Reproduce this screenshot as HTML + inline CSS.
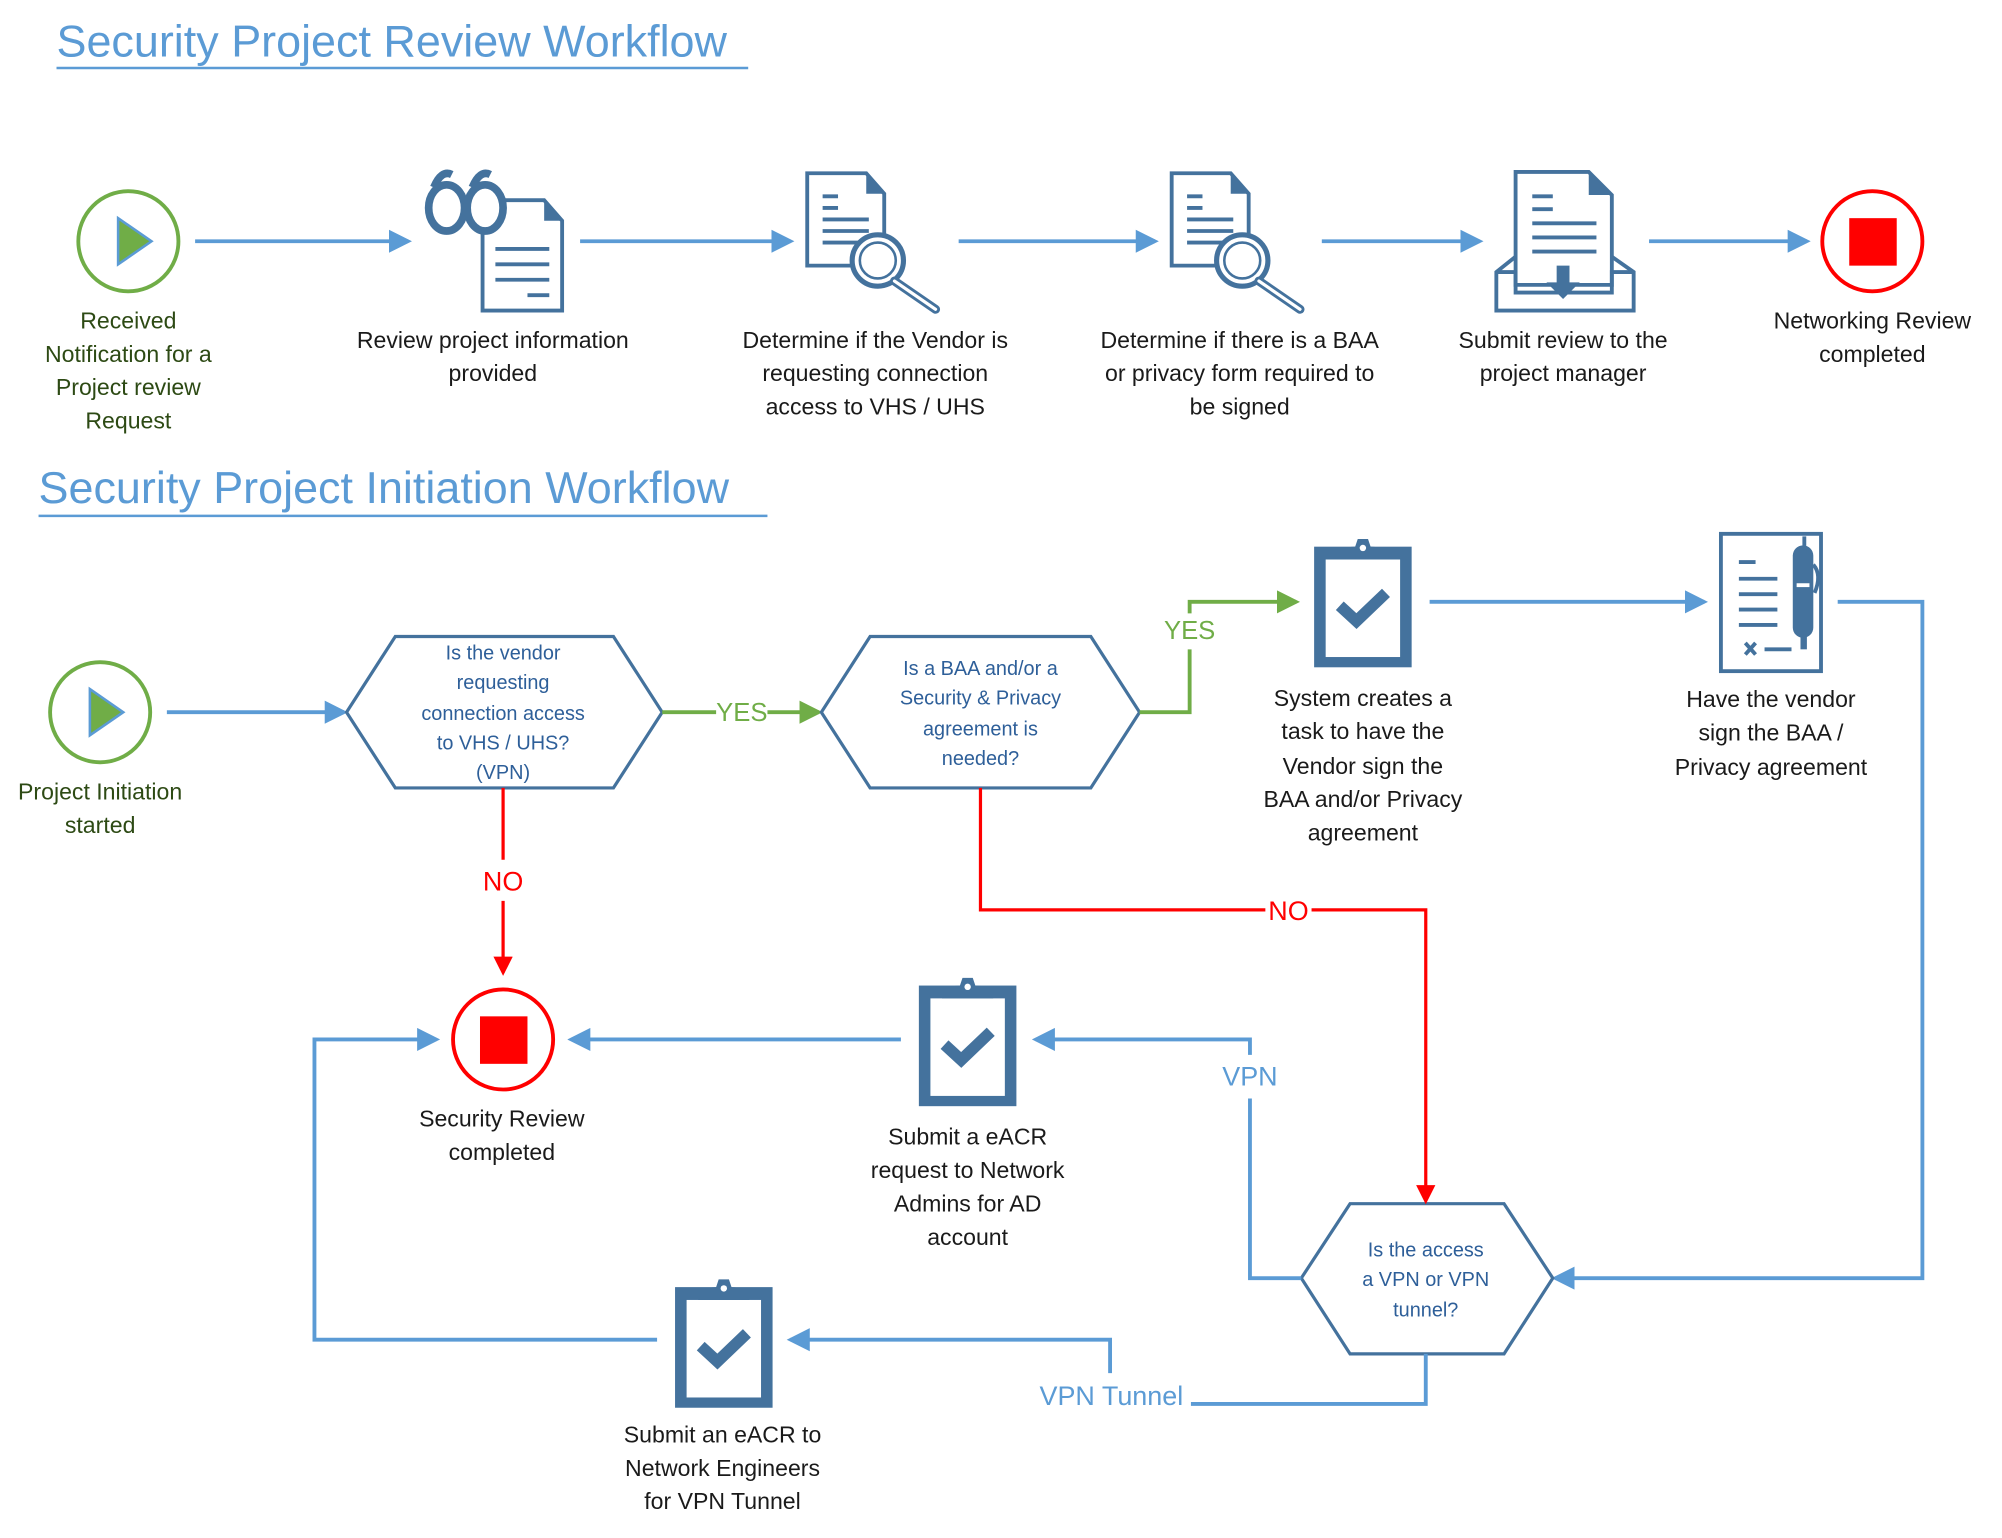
<!DOCTYPE html>
<html><head><meta charset="utf-8"><style>
html,body{margin:0;padding:0;background:#fff;}
svg{display:block;}
text{font-family:"Liberation Sans",sans-serif;}
.lbl{font-size:18px;fill:#1a1a1a;text-anchor:middle;}
.grn{font-size:18px;fill:#2d4a14;text-anchor:middle;}
.hx{font-size:15.5px;fill:#2e5f99;text-anchor:middle;}
.ln{fill:none;stroke:#5b9bd5;stroke-width:3;}
.ic{fill:none;stroke:#44729d;stroke-width:3;}
</style></head><body>
<svg width="2002" height="1538" viewBox="0 0 1560 1198.5" xmlns="http://www.w3.org/2000/svg">
<defs>
<marker id="ab" markerWidth="6" markerHeight="6" refX="5" refY="3" orient="auto" markerUnits="strokeWidth"><path d="M0,0 L6,3 L0,6 Z" fill="#5b9bd5"/></marker>
<marker id="ag" markerWidth="6" markerHeight="6" refX="5" refY="3" orient="auto" markerUnits="strokeWidth"><path d="M0,0 L6,3 L0,6 Z" fill="#70ad47"/></marker>
<marker id="ar" markerWidth="6" markerHeight="6" refX="5" refY="3" orient="auto" markerUnits="strokeWidth"><path d="M0,0 L6,3 L0,6 Z" fill="#ff0000"/></marker>
<g id="docmag">
<path d="M0,0 H46 L60,16 V72 H0 Z" fill="#fff" stroke="#44729d" stroke-width="3"/>
<path d="M46,0 L60,16 H46 Z" fill="#44729d"/>
<path d="M12,18 H24 M12,27 H24 M12,36 H48 M12,45 H48 M12,54 H40" stroke="#44729d" stroke-width="3"/>
<circle cx="55" cy="68" r="20" fill="#fff" stroke="#44729d" stroke-width="4"/>
<circle cx="55" cy="68" r="14" fill="none" stroke="#44729d" stroke-width="2"/>
<path d="M68,84 L100,106" stroke="#44729d" stroke-width="7" stroke-linecap="round"/>
<path d="M68,84 L100,106" stroke="#fff" stroke-width="2.5" stroke-linecap="round"/>
</g>
<g id="clip">
<rect x="2" y="10" width="76" height="94" fill="#44729d"/>
<rect x="11" y="20" width="58" height="76" fill="#fff"/>
<path d="M20,20 Q22,10 34,10 L36,4 H44 L46,10 Q58,10 60,20 Z" fill="#44729d"/>
<circle cx="40" cy="11" r="2.5" fill="#fff"/>
<path d="M22,56 L35,68 L58,46" fill="none" stroke="#44729d" stroke-width="9"/>
</g>
</defs>

<!-- Title 1 -->
<text x="44" y="44" style="font-size:35px;fill:#5b9bd5">Security Project Review Workflow</text>
<line x1="44" y1="53" x2="583" y2="53" stroke="#5b9bd5" stroke-width="2"/>

<!-- Row 1 -->
<circle cx="100" cy="188" r="39" fill="#fff" stroke="#70ad47" stroke-width="3"/>
<path d="M92,170 L118,188 L92,206 Z" fill="#70ad47" stroke="#5b9bd5" stroke-width="2"/>
<line class="ln" x1="152" y1="188" x2="318" y2="188" marker-end="url(#ab)"/>
<!-- glasses + doc -->
<g>
<path d="M376,156 H424 L438,172 V242 H376 Z" fill="#fff" stroke="#44729d" stroke-width="3"/>
<path d="M424,156 L438,172 H424 Z" fill="#44729d"/>
<path d="M386,194 H428 M386,206 H428 M386,218 H428 M411,230 H428" stroke="#44729d" stroke-width="3"/>
<ellipse cx="348" cy="162" rx="14" ry="18" fill="#fff" stroke="#44729d" stroke-width="6"/>
<ellipse cx="378" cy="162" rx="14" ry="18" fill="#fff" stroke="#44729d" stroke-width="6"/>
<path d="M338,146 Q344,132 352,136 M368,146 Q374,132 382,136" stroke="#44729d" stroke-width="6" fill="none"/>
</g>
<line class="ln" x1="452" y1="188" x2="616" y2="188" marker-end="url(#ab)"/>
<use href="#docmag" x="629" y="135"/>
<line class="ln" x1="747" y1="188" x2="900" y2="188" marker-end="url(#ab)"/>
<use href="#docmag" x="913" y="135"/>
<line class="ln" x1="1030" y1="188" x2="1153" y2="188" marker-end="url(#ab)"/>
<!-- inbox -->
<g>
<path d="M1181,134 H1238 L1256,152 V222 H1181 Z" fill="#fff" stroke="#44729d" stroke-width="3"/>
<path d="M1238,134 L1256,152 H1238 Z" fill="#44729d"/>
<path d="M1194,153 H1210 M1194,163 H1210 M1194,174 H1244 M1194,185 H1244 M1194,196 H1244" stroke="#44729d" stroke-width="3"/>
<path d="M1181,200 L1166,212 V242 H1273 V212 L1256,200" fill="none" stroke="#44729d" stroke-width="3"/>
<path d="M1166,212 H1181 V222 V228 H1256 V212 H1273" fill="none" stroke="#44729d" stroke-width="3"/>
<path d="M1213,207 H1223 V220 H1231 L1218,233 L1205,220 H1213 Z" fill="#44729d"/>
</g>
<line class="ln" x1="1285" y1="188" x2="1408" y2="188" marker-end="url(#ab)"/>
<circle cx="1459" cy="188" r="39" fill="#fff" stroke="#ff0000" stroke-width="3"/>
<rect x="1441" y="170" width="37" height="37" fill="#ff0000"/>

<text class="grn"><tspan x="100" y="256">Received</tspan><tspan x="100" y="282">Notification for a</tspan><tspan x="100" y="308">Project review</tspan><tspan x="100" y="334">Request</tspan></text>
<text class="lbl"><tspan x="384" y="271">Review project information</tspan><tspan x="384" y="297">provided</tspan></text>
<text class="lbl"><tspan x="682" y="271">Determine if the Vendor is</tspan><tspan x="682" y="297">requesting connection</tspan><tspan x="682" y="323">access to VHS / UHS</tspan></text>
<text class="lbl"><tspan x="966" y="271">Determine if there is a BAA</tspan><tspan x="966" y="297">or privacy form required to</tspan><tspan x="966" y="323">be signed</tspan></text>
<text class="lbl"><tspan x="1218" y="271">Submit review to the</tspan><tspan x="1218" y="297">project manager</tspan></text>
<text class="lbl"><tspan x="1459" y="256">Networking Review</tspan><tspan x="1459" y="282">completed</tspan></text>

<!-- Title 2 -->
<text x="30" y="392" style="font-size:35px;fill:#5b9bd5">Security Project Initiation Workflow</text>
<line x1="30" y1="402" x2="598" y2="402" stroke="#5b9bd5" stroke-width="2"/>

<!-- Row 2 -->
<circle cx="78" cy="555" r="39" fill="#fff" stroke="#70ad47" stroke-width="3"/>
<path d="M70,537 L96,555 L70,573 Z" fill="#70ad47" stroke="#5b9bd5" stroke-width="2"/>
<text class="grn"><tspan x="78" y="623">Project Initiation</tspan><tspan x="78" y="649">started</tspan></text>
<line class="ln" x1="130" y1="555" x2="268" y2="555" marker-end="url(#ab)"/>

<polygon points="270,555 308,496 478,496 516,555 478,614 308,614" fill="#fff" stroke="#44729d" stroke-width="2.5"/>
<text class="hx"><tspan x="392" y="514">Is the vendor</tspan><tspan x="392" y="537">requesting</tspan><tspan x="392" y="561">connection access</tspan><tspan x="392" y="584">to VHS / UHS?</tspan><tspan x="392" y="607">(VPN)</tspan></text>

<line x1="516" y1="555" x2="558" y2="555" stroke="#70ad47" stroke-width="3"/>
<line x1="598" y1="555" x2="638" y2="555" stroke="#70ad47" stroke-width="3" marker-end="url(#ag)"/>
<text x="578" y="562" style="font-size:20px;fill:#70ad47;text-anchor:middle">YES</text>

<polygon points="640,555 678,496 850,496 888,555 850,614 678,614" fill="#fff" stroke="#44729d" stroke-width="2.5"/>
<text class="hx"><tspan x="764" y="526">Is a BAA and/or a</tspan><tspan x="764" y="549">Security &amp; Privacy</tspan><tspan x="764" y="573">agreement is</tspan><tspan x="764" y="596">needed?</tspan></text>

<polyline points="888,555 927,555 927,506" fill="none" stroke="#70ad47" stroke-width="3"/>
<polyline points="927,478 927,469 1010,469" fill="none" stroke="#70ad47" stroke-width="3" marker-end="url(#ag)"/>
<text x="927" y="498" style="font-size:20px;fill:#70ad47;text-anchor:middle">YES</text>

<use href="#clip" x="1022" y="416"/>
<text class="lbl"><tspan x="1062" y="550">System creates a</tspan><tspan x="1062" y="576">task to have the</tspan><tspan x="1062" y="603">Vendor sign the</tspan><tspan x="1062" y="629">BAA and/or Privacy</tspan><tspan x="1062" y="655">agreement</tspan></text>

<line class="ln" x1="1114" y1="469" x2="1328" y2="469" marker-end="url(#ab)"/>
<!-- contract icon -->
<g>
<rect x="1341" y="416" width="78" height="107" fill="#fff" stroke="#44729d" stroke-width="3"/>
<path d="M1355,438 H1368 M1355,451 H1385 M1355,463 H1385 M1355,475 H1385 M1355,487 H1385 M1375,506 H1396" stroke="#44729d" stroke-width="3"/>
<path d="M1360,501 L1368,510 M1368,501 L1360,510" stroke="#44729d" stroke-width="3"/>
<rect x="1397" y="425" width="16" height="72" rx="8" fill="#44729d"/>
<rect x="1403" y="492" width="5" height="14" fill="#44729d"/>
<path d="M1406,418 V432 M1413,440 Q1420,448 1414,462" stroke="#44729d" stroke-width="3" fill="none"/>
<path d="M1400,456 H1410" stroke="#fff" stroke-width="3"/>
</g>
<text class="lbl"><tspan x="1380" y="551">Have the vendor</tspan><tspan x="1380" y="577">sign the BAA /</tspan><tspan x="1380" y="604">Privacy agreement</tspan></text>

<polyline class="ln" points="1432,469 1498,469 1498,996 1212,996" marker-end="url(#ab)"/>

<polygon points="1014,996 1052,938 1172,938 1210,996 1172,1055 1052,1055" fill="#fff" stroke="#44729d" stroke-width="2.5"/>
<text class="hx"><tspan x="1111" y="979">Is the access</tspan><tspan x="1111" y="1002">a VPN or VPN</tspan><tspan x="1111" y="1026">tunnel?</tspan></text>

<!-- red NO paths -->
<polyline points="764,614 764,709 986,709" fill="none" stroke="#ff0000" stroke-width="2.5"/>
<polyline points="1022,709 1111,709 1111,936" fill="none" stroke="#ff0000" stroke-width="2.5" marker-end="url(#ar)"/>
<text x="1004" y="717" style="font-size:21px;fill:#ff0000;text-anchor:middle">NO</text>

<line x1="392" y1="614" x2="392" y2="670" stroke="#ff0000" stroke-width="2.5"/>
<line x1="392" y1="702" x2="392" y2="758" stroke="#ff0000" stroke-width="2.5" marker-end="url(#ar)"/>
<text x="392" y="694" style="font-size:21px;fill:#ff0000;text-anchor:middle">NO</text>

<circle cx="392" cy="810" r="39" fill="#fff" stroke="#ff0000" stroke-width="3"/>
<rect x="374" y="792" width="37" height="37" fill="#ff0000"/>
<text class="lbl"><tspan x="391" y="878">Security Review</tspan><tspan x="391" y="904">completed</tspan></text>

<polyline class="ln" points="1014,996 974,996 974,856"/>
<polyline class="ln" points="974,822 974,810 807,810" marker-end="url(#ab)"/>
<text x="974" y="846" style="font-size:21px;fill:#5b9bd5;text-anchor:middle">VPN</text>

<use href="#clip" x="714" y="758"/>
<text class="lbl"><tspan x="754" y="892">Submit a eACR</tspan><tspan x="754" y="918">request to Network</tspan><tspan x="754" y="944">Admins for AD</tspan><tspan x="754" y="970">account</tspan></text>

<line class="ln" x1="702" y1="810" x2="445" y2="810" marker-end="url(#ab)"/>

<polyline class="ln" points="1111,1055 1111,1094 928,1094"/>
<polyline class="ln" points="865,1070 865,1044 616,1044" marker-end="url(#ab)"/>
<text x="866" y="1095" style="font-size:21px;fill:#5b9bd5;text-anchor:middle">VPN Tunnel</text>

<use href="#clip" x="524" y="993"/>
<text class="lbl"><tspan x="563" y="1124">Submit an eACR to</tspan><tspan x="563" y="1150">Network Engineers</tspan><tspan x="563" y="1176">for VPN Tunnel</tspan></text>

<polyline class="ln" points="512,1044 245,1044 245,810 340,810" marker-end="url(#ab)"/>
</svg>
</body></html>
